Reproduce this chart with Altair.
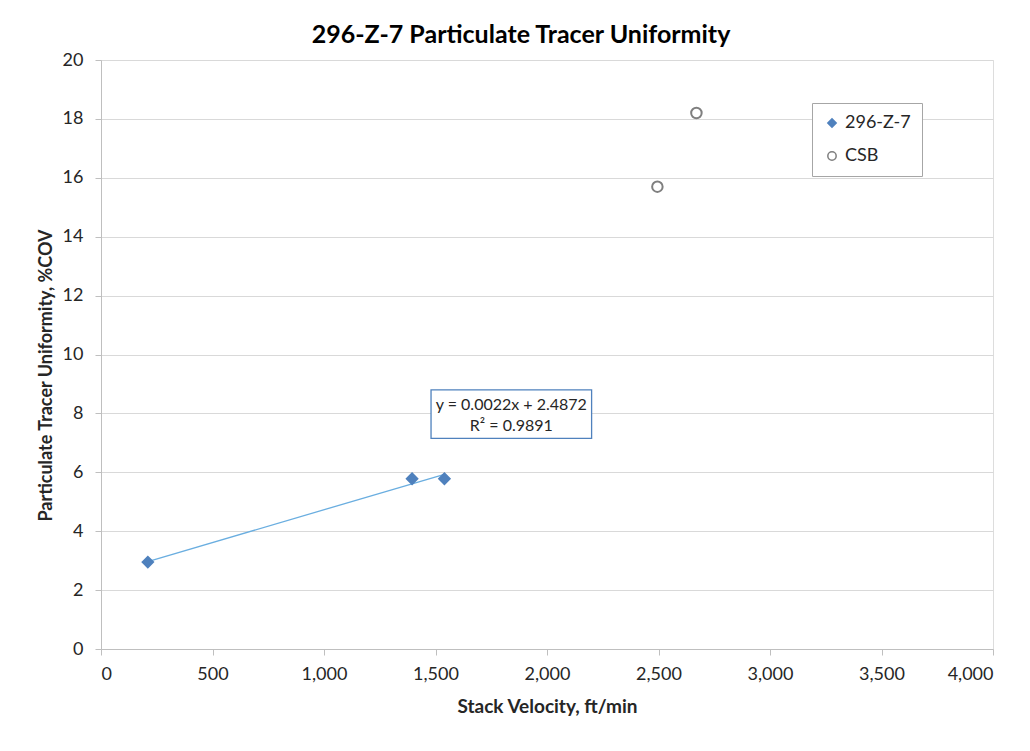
import altair as alt
import pandas as pd

# Data
series_names = ["296-Z-7", "296-Z-7", "296-Z-7", "CSB", "CSB"]
velocity = [210, 1395, 1540, 2495, 2670]
uniformity = [2.95, 5.78, 5.78, 15.7, 18.2]

eq_lines = ["y = 0.0022x + 2.4872", "R² = 0.9891"]
eq_x = [1840, 1840]
eq_y = [8.27, 7.58]
box_x = [1480]
box_x2 = [2200]
box_y = [8.8]
box_y2 = [7.15]

df = pd.DataFrame({"series": series_names, "v": velocity, "u": uniformity})
z7 = df[df.series == "296-Z-7"]
eq_df = pd.DataFrame({"t": eq_lines, "x": eq_x, "y": eq_y})
box_df = pd.DataFrame({"x": box_x, "x2": box_x2, "y": box_y, "y2": box_y2})

FONT = "Lato"
xscale = alt.Scale(domain=[0, 4000], nice=False)
yscale = alt.Scale(domain=[0, 20], nice=False)

xaxis = alt.Axis(title="Stack Velocity, ft/min", values=list(range(0, 4001, 500)), format=",d",
                 grid=False, domainColor="#BFBFBF", tickColor="#BFBFBF", tickSize=6,
                 labelFontSize=18, labelColor="#262626", labelFont=FONT, labelPadding=10,
                 titleFontSize=19, titleFont=FONT, titleFontWeight="bold", titleColor="#262626",
                 titlePadding=14)
yaxis = alt.Axis(title="Particulate Tracer Uniformity, %COV", values=list(range(0, 21, 2)),
                 grid=True, gridColor="#D9D9D9", domainColor="#BFBFBF", tickColor="#BFBFBF", tickSize=6,
                 labelFontSize=18, labelColor="#262626", labelFont=FONT, labelPadding=12,
                 titleFontSize=18, titleFont=FONT, titleFontWeight="bold", titleColor="#262626",
                 titlePadding=7, titleY=315)

dom = ["296-Z-7", "CSB"]
leg = alt.Legend(title=None, orient="none", legendX=711, legendY=43, strokeColor="#A6A6A6",
                 fillColor="white", padding=11, labelFontSize=18, labelFont=FONT, labelColor="#262626",
                 symbolSize=70, rowPadding=15, symbolStrokeWidth=1.5, labelOffset=4)

points = alt.Chart(df).mark_point(opacity=1, size=110, strokeWidth=2).encode(
    x=alt.X("v:Q", scale=xscale, axis=xaxis),
    y=alt.Y("u:Q", scale=yscale, axis=yaxis),
    shape=alt.Shape("series:N", scale=alt.Scale(domain=dom, range=["diamond", "circle"]), legend=leg),
    fill=alt.Fill("series:N", scale=alt.Scale(domain=dom, range=["#4F81BD", "white"]), legend=leg),
    stroke=alt.Stroke("series:N", scale=alt.Scale(domain=dom, range=["#4F81BD", "#7F7F7F"]), legend=leg),
)

trend = alt.Chart(z7).transform_regression("v", "u", method="linear").mark_line(
    color="#6AAEE0", strokeWidth=1.3).encode(x="v:Q", y="u:Q")

box = alt.Chart(box_df).mark_rect(fill="white", stroke="#4F81BD", strokeWidth=1.3).encode(
    x="x:Q", x2="x2", y="y:Q", y2="y2")
eq = alt.Chart(eq_df).mark_text(fontSize=16, font=FONT, color="#262626", align="center",
                                baseline="middle").encode(x="x:Q", y="y:Q", text="t:N")

chart = alt.layer(trend, points, box, eq).properties(
    width=892, height=589,
    title=alt.TitleParams("296-Z-7 Particulate Tracer Uniformity", fontSize=25, font=FONT,
                          fontWeight="bold", color="#000000", anchor="middle", offset=3, dx=-26),
    autosize=alt.AutoSizeParams(type="none"),
    padding={"left": 93, "top": 52, "right": 20, "bottom": 80},
).configure_view(stroke=None).configure(background="white")

chart.save("out.html", embed_options={"renderer": "svg", "actions": False})
